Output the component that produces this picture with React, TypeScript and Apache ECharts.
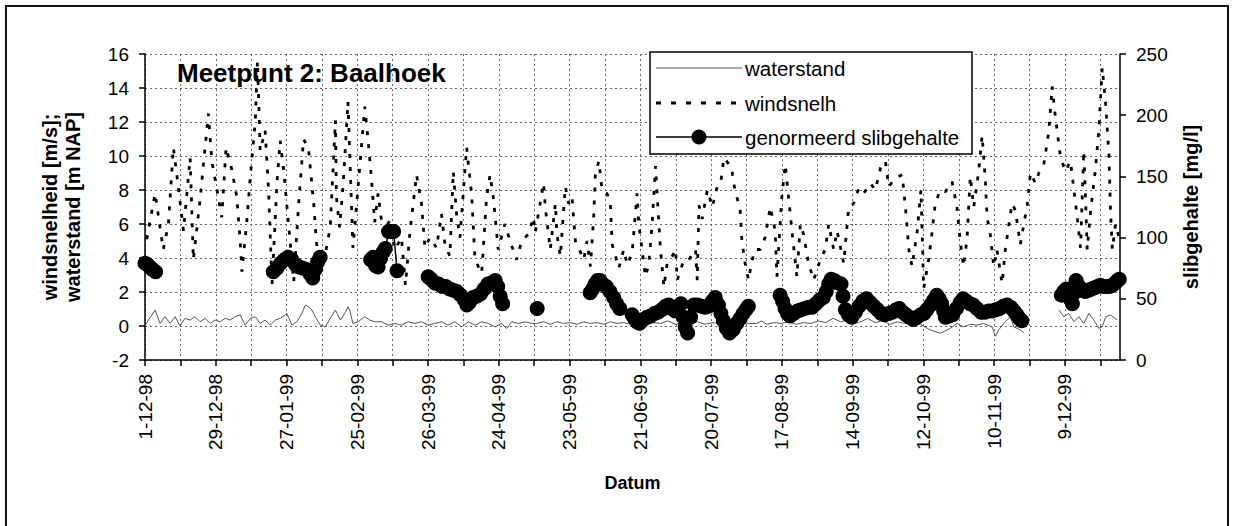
import React, { useEffect, useRef } from 'react';
import * as echarts from 'echarts';

const FONT = '"Liberation Sans", Arial, sans-serif';

// x axis: days since 1-12-98
const dateLabels = [
  '1-12-98', '29-12-98', '27-01-99', '25-02-99', '26-03-99', '24-04-99', '23-05-99',
  '21-06-99', '20-07-99', '17-08-99', '14-09-99', '12-10-99', '10-11-99', '9-12-99',
];
const TICK_DAYS = 373 / 26;
const TICK_COUNT = 28;
const X_MAX = 395.3;

// windsnelheid [m/s] : [day, value]
const windsnelh: [number, number][] = [
  [0.7, 5.1], [4.1, 7.8], [7.4, 4.5], [9.5, 6.0], [11.5, 10.5], [13.5, 8.2], [15.6, 5.6], [18.3, 9.9],
  [19.6, 3.9], [22.3, 7.4], [25.7, 12.5], [27.1, 9.7], [29.1, 8.1], [31.1, 6.4], [32.9, 10.5], [35.2, 9.2],
  [37.2, 7.6], [38.6, 5.0], [39.3, 3.2], [41.3, 6.2], [42.7, 8.8], [44.7, 12.0], [45.6, 15.6], [46.7, 10.3],
  [48.7, 11.5], [50.1, 8.0], [51.5, 2.4], [53.5, 8.4], [54.8, 10.9], [56.2, 9.2], [58.2, 6.0], [60.3, 2.6],
  [62.3, 7.2], [64.3, 11.0], [66.3, 10.4], [68.4, 7.2], [69.5, 4.9], [71.8, 3.2], [75.1, 5.8], [77.2, 12.1],
  [77.6, 7.6], [78.9, 5.8], [80.3, 8.2], [82.3, 13.2], [84.3, 4.6], [86.4, 8.2], [89.1, 12.9], [90.4, 11.0],
  [91.8, 8.7], [93.1, 6.1], [94.5, 7.8], [96.5, 5.5], [99.2, 6.2], [101.3, 4.5], [104, 5.2], [105.6, 2.4],
  [107.4, 5.5], [110.1, 8.9], [112.1, 7.2], [113.5, 4.6], [115.5, 5.2], [118.2, 4.6], [120.2, 6.6], [121.6, 4.8],
  [123.6, 4.1], [125, 9.1], [126.3, 6.6], [127.7, 5.2], [130.4, 10.5], [132.4, 7.8], [133.8, 3.9], [136.5, 3.1],
  [138.5, 7.6], [139.9, 8.9], [141.2, 7.6], [143.2, 4.5], [145.9, 6.0], [148, 5.0], [150.7, 3.9], [152.7, 5.0],
  [155.4, 5.4], [157.5, 6.4], [158.2, 5.5], [161.6, 8.4], [162.3, 7.0], [164.3, 4.5], [166.4, 7.2], [167, 5.4],
  [168.4, 4.1], [170.4, 8.2], [171.8, 7.2], [173.1, 7.6], [174.5, 5.0], [177.9, 3.9], [179.2, 5.0], [180.6, 3.5],
  [181.9, 6.4], [182.6, 8.9], [184, 9.7], [185.3, 8.0], [187.3, 7.8], [188.7, 7.2], [189.4, 4.8], [192.1, 3.4],
  [194.1, 4.5], [195.5, 3.6], [197.5, 4.3], [199.5, 7.8], [200.2, 6.0], [202.9, 2.9], [204.3, 3.7], [205.6, 6.0],
  [207, 9.4], [207.7, 7.6], [209, 4.5], [210.4, 2.3], [211.7, 3.7], [213.1, 3.9], [215.1, 4.5], [215.8, 2.7],
  [218.5, 3.9], [220.5, 3.9], [223.2, 4.5], [223.9, 2.7], [224.6, 7.1], [225.9, 6.3], [228, 8.0], [230, 7.0],
  [232, 8.2], [233.4, 8.4], [234.7, 9.9], [237.9, 9.3], [238.6, 8.4], [241.3, 6.8], [242, 5.0], [243.3, 3.7],
  [244.7, 2.7], [246, 3.8], [247.4, 4.5], [249.4, 4.5], [251.4, 5.2], [253.5, 7.0], [255.5, 5.6], [256.2, 2.9],
  [258.2, 7.6], [259.6, 9.5], [260.9, 7.6], [262.3, 5.6], [264.3, 2.9], [265.7, 6.0], [267, 5.4], [269, 3.7],
  [271.1, 2.7], [273.8, 3.9], [275.8, 4.5], [277.2, 6.0], [279.2, 4.5], [280.6, 5.6], [283.3, 3.7], [285.3, 7.0],
  [287.3, 7.2], [289.4, 8.1], [291.4, 7.8], [294.1, 8.4], [296.1, 8.0], [298.2, 9.3], [300.2, 9.7], [301.5, 8.2],
  [304.3, 8.7], [307, 8.9], [308.3, 7.0], [309.7, 4.5], [311, 3.5], [313.1, 5.6], [314.6, 8.0], [315.7, 2.2],
  [317.7, 3.9], [319, 5.4], [320.4, 7.2], [322.4, 8.0], [324.5, 7.9], [327.2, 8.5], [329.2, 7.0], [330.5, 5.0],
  [331.9, 3.5], [333.3, 5.2], [334.6, 8.8], [336, 7.0], [338, 9.1], [339.4, 11.2], [340.7, 8.6], [341.4, 6.4],
  [342.7, 5.4], [344.1, 3.5], [345.4, 4.5], [347.5, 2.5], [348.8, 4.5], [351.5, 7.2], [352.9, 6.8], [354.9, 4.8],
  [356.3, 6.0], [357.6, 7.0], [359, 9.0], [361, 8.4], [362.4, 9.0], [364.4, 9.5], [366.4, 11.4], [367.8, 14.1],
  [369.1, 12.3], [371.2, 9.9], [373.2, 9.1], [375.2, 9.7], [377.3, 7.2], [379.3, 4.6], [380.6, 10.3], [381.3, 7.6],
  [382, 4.5], [383.4, 6.8], [385.4, 9.3], [386.7, 11.5], [388.1, 15.2], [389.4, 13.2], [390.8, 10.1], [391.5, 6.6],
  [392.2, 4.5], [393.5, 6.0], [394.9, 5.2],
];

// waterstand [m NAP] : [day, value] (two measured stretches)
const waterstandA: [number, number][] = [
  [0, 0.0], [1.4, 0.35], [4.1, 0.94], [6.1, 0.15], [8.1, 0.55], [10.2, 0.15], [12.2, 0.55], [14.2, 0.0],
  [16.2, 0.45], [18.3, 0.35], [20.3, 0.55], [22.3, 0.25], [24.4, 0.45], [26.4, 0.15], [28.4, 0.35], [30.5, 0.25],
  [32.5, 0.45], [34.5, 0.35], [36.6, 0.55], [38.6, 0.65], [40.6, 0.05], [42.7, 0.45], [44.7, 0.55], [46.7, 0.15],
  [48.7, 0.35], [50.8, 0.05], [52.8, 0.35], [54.8, 0.45], [56.9, 0.65], [57.5, 0.74], [59.6, 0.05], [61.6, 0.25],
  [63.6, 0.74], [65, 1.23], [66.3, 1.13], [67.7, 0.94], [69, 0.55], [71.1, 0.05], [73.1, -0.05], [75.1, 0.45],
  [77.2, 0.94], [79.2, 0.35], [81, 0.74], [82.3, 1.13], [83, 0.94], [84.3, 0.15], [86.4, 0.25], [89.1, 0.55],
  [91.1, 0.35], [93.1, 0.25], [95.9, 0.25], [98.6, 0.05], [101.3, 0.15], [104, 0.05], [106.7, 0.25], [109.4, 0.15],
  [112.1, 0.25], [114.8, 0.05], [117.5, 0.15], [120.2, 0.25], [122.9, 0.05], [125.6, 0.25], [128.4, -0.05], [131.1, 0.25],
  [133.8, 0.05], [136.5, 0.25], [139.2, 0.15], [141.9, -0.05], [144.6, 0.15], [146.6, -0.15], [148.7, 0.25], [151.4, 0.15],
  [154.1, 0.25], [156.8, 0.15], [158.9, 0.15], [161.6, 0.25], [164.3, 0.1], [167, 0.25], [169.7, 0.15], [172.4, 0.2],
  [175.2, 0.1], [177.9, 0.25], [180.6, 0.15], [183.3, 0.2], [186, 0.1], [188.7, 0.25], [191.4, 0.15], [194.1, 0.2],
  [196.8, 0.1], [200, 0.25], [203, 0.1], [206, 0.2], [209, 0.15], [212, 0.3], [215, 0.1], [218, 0.2],
  [221, 0.15], [224, 0.25], [227, 0.1], [230, 0.2], [233, 0.15], [236, 0.25], [239, 0.1], [242, 0.2],
  [245, 0.15], [248, 0.15], [250, 0.3], [252, 0.1], [255, 0.2], [258, 0.15], [261, 0.25], [264, 0.1],
  [267, 0.2], [270, 0.15], [273, 0.3], [276, 0.2], [279, 0.45], [282, 0.25], [285, 0.35], [288, 0.15],
  [291, 0.3], [293, 0.45], [296, 0.2], [299, 0.3], [302, 0.1], [305, 0.25], [308, 0.15], [311, 0.2],
  [314.3, 0.1], [318.4, -0.23], [322.4, -0.43], [326.5, -0.14], [329.2, 0.15], [331.9, -0.05], [334.6, 0.1], [337.3, 0.05],
  [340, 0.15], [343.4, -0.05], [344.8, -0.6], [346.1, -0.23], [348.2, 0.15], [350.9, 0.55], [352.2, -0.05], [354.9, -0.23],
  [356.3, -0.4],
];
const waterstandB: [number, number][] = [
  [370.5, 0.94], [372.5, 0.55], [374.5, 0.74], [376.6, 0.25], [378.6, 0.55], [380.6, 0.15], [382.7, 0.74], [384.7, 0.35],
  [386.7, -0.14], [388.1, -0.05], [389.5, 0.55], [391.5, 0.65], [394.2, 0.35],
];

// genormeerd slibgehalte [mg/l] : [day, value], measuring campaigns
const slib1: [number, number][] = [[0, 79], [1, 78], [2, 76], [3, 74], [4.3, 72]];
const slib2: [number, number][] = [
  [52, 72], [53.5, 75], [55, 79], [56.5, 82], [58, 84], [59.5, 82], [61, 78], [62.5, 76],
  [64, 75], [65.5, 74], [67, 70], [68, 67], [69, 74], [70, 80], [71, 84],
];
const slib3: [number, number][] = [
  [91.5, 82], [92.5, 84], [93.5, 77], [94.5, 76], [95.5, 83], [96.5, 88], [97.4, 91], [98.8, 105],
  [99.8, 105], [100.8, 105], [102.2, 73],
];
const slib4: [number, number][] = [
  [114.8, 68], [116, 66], [117.5, 63], [119, 62], [120.5, 60], [122, 60], [123.5, 58], [125, 57],
  [126.5, 56], [128, 53], [129.5, 49], [130.5, 45], [131.5, 47], [133, 51], [134.5, 52], [136, 54],
  [137.5, 58], [139, 62], [140.5, 63], [142, 65], [143, 60], [144, 52], [145, 46],
];
const slib5: [number, number][] = [[159, 42]];
const slib6: [number, number][] = [
  [180.5, 55], [181.5, 58], [182.5, 62], [183.5, 65], [184.5, 65], [185.5, 62], [187, 60], [188.5, 56],
  [190, 51], [191.2, 46], [192.5, 42],
];
const slib7: [number, number][] = [
  [197.5, 37], [198.5, 34], [199.5, 31], [200.5, 30], [202, 33], [203.5, 35], [205, 36], [206.5, 38],
  [208, 39], [209.5, 41], [211, 44], [212.3, 45], [213.5, 42], [215, 40], [216.3, 44], [217.3, 46],
  [218.3, 35], [219, 27], [220, 22], [221.2, 35], [222.5, 45], [224, 45], [225.5, 44], [227, 43],
  [228.5, 44], [230, 48], [231.2, 51], [232.5, 45], [233.5, 38], [234.5, 32], [235.7, 26], [237, 22],
  [238.5, 25], [240, 30], [241.3, 34], [242.5, 38], [243.6, 41], [244.6, 44],
];
const slib8: [number, number][] = [
  [257.5, 53], [258.5, 48], [259.5, 42], [260.5, 38], [261.5, 36], [263, 38], [264.5, 40], [266, 41],
  [267.5, 42], [269, 43], [270.5, 43], [272, 46], [273.5, 49], [275, 51], [276.2, 56], [277.2, 62],
  [278.2, 66], [279.5, 65], [281, 63], [282.2, 62], [283, 52], [284, 41], [285.2, 37], [286.5, 35],
  [288, 39], [289.5, 44], [291, 48], [292.5, 50], [294, 47], [295.5, 44], [297, 41], [298.5, 38],
  [300, 37], [301.5, 38], [303, 39], [304.5, 41], [305.8, 42], [307.2, 39], [308.5, 37], [310, 35],
  [311.5, 33], [313, 35], [314.5, 37], [315.8, 38], [317, 41], [318.5, 45], [319.8, 49], [321, 53],
  [322, 50], [323, 46], [323.8, 40], [324.5, 35], [326, 36], [327.5, 37], [329, 42], [330.5, 47],
  [331.7, 50], [333, 48], [334.5, 46], [335.8, 45], [337.3, 42], [339, 39], [340.5, 39], [342, 40],
  [343.5, 40], [345, 41], [346.5, 42], [348, 44], [349.5, 45], [351, 43], [352.3, 40], [353.5, 37],
  [354.5, 34], [355.5, 32],
];
const slib9: [number, number][] = [
  [371.5, 53], [372.5, 56], [373.5, 58], [374.3, 54], [375, 50], [376, 46], [376.8, 55], [377.5, 65],
  [378.7, 60], [380, 57], [381.2, 56], [382.5, 57], [383.7, 58], [385, 59], [386.2, 60], [387.4, 61],
  [388.6, 60], [389.8, 60], [391, 60], [392.2, 61], [393.4, 63], [394.3, 65], [395, 66],
];

function joinWithBreaks(parts: [number, number][][]): any[] {
  const out: any[] = [];
  parts.forEach((p, i) => {
    if (i > 0) out.push([(out[out.length - 1][0] + p[0][0]) / 2, '-']);
    p.forEach((d) => out.push(d));
  });
  return out;
}

export default function App() {
  const ref = useRef<HTMLDivElement>(null);

  useEffect(() => {
    document.body.style.margin = '0';
    if (!ref.current) return;
    const chart = echarts.init(ref.current, undefined, { renderer: 'svg' });

    const tickValues: number[] = [];
    for (let k = 0; k < TICK_COUNT; k++) tickValues.push(k * TICK_DAYS);
    const labelValues = dateLabels.map((_, i) => i * 2 * TICK_DAYS);

    const gridLine = { show: true, lineStyle: { color: '#666', type: [2, 3] as any, width: 1 } };
    const axisTxt = { color: '#000', fontFamily: FONT, fontSize: 19 };

    const legendX = 650;
    const legendY = 52;
    const rows = [68, 103, 137];

    chart.setOption({
      animation: false,
      backgroundColor: '#fff',
      textStyle: { fontFamily: FONT },
      grid: { left: 145, top: 54, width: 975, height: 306, containLabel: false },
      xAxis: {
        type: 'value',
        min: 0,
        max: X_MAX,
        axisLine: { show: true, onZero: false, lineStyle: { color: '#000', width: 1.5 } },
        axisTick: { show: true, customValues: tickValues, length: 6, lineStyle: { color: '#000', width: 1.5 } },
        axisLabel: {
          customValues: labelValues,
          rotate: 90,
          margin: 14,
          ...axisTxt,
          fontSize: 19,
          formatter: (v: number) => dateLabels[Math.round(v / (2 * TICK_DAYS))] ?? '',
        },
        splitLine: gridLine,
        name: 'Datum',
        nameLocation: 'middle',
        nameGap: 114,
        nameTextStyle: { color: '#000', fontFamily: FONT, fontSize: 18, fontWeight: 'bold' },
      },
      yAxis: [
        {
          type: 'value',
          min: -2,
          max: 16,
          interval: 2,
          position: 'left',
          axisLine: { show: true, lineStyle: { color: '#000', width: 1.5 } },
          axisTick: { show: true, length: 6, lineStyle: { color: '#000', width: 1.5 } },
          axisLabel: { ...axisTxt, margin: 16 },
          splitLine: gridLine,
          name: 'windsnelheid [m/s];\nwaterstand [m NAP]',
          nameLocation: 'middle',
          nameRotate: 90,
          nameGap: 61,
          nameTextStyle: { color: '#000', fontFamily: FONT, fontSize: 20, fontWeight: 'bold', lineHeight: 23 },
        },
        {
          type: 'value',
          min: 0,
          max: 250,
          interval: 50,
          position: 'right',
          axisLine: { show: true, lineStyle: { color: '#000', width: 1.5 } },
          axisTick: { show: true, length: 6, lineStyle: { color: '#000', width: 1.5 } },
          axisLabel: { ...axisTxt, margin: 16 },
          splitLine: { show: false },
          name: 'slibgehalte [mg/l]',
          nameLocation: 'middle',
          nameRotate: 90,
          nameGap: 61,
          nameTextStyle: { color: '#000', fontFamily: FONT, fontSize: 20, fontWeight: 'bold' },
        },
      ],
      series: [
        {
          name: 'waterstand',
          type: 'line',
          yAxisIndex: 0,
          data: joinWithBreaks([waterstandA, waterstandB]),
          showSymbol: false,
          symbol: 'none',
          lineStyle: { color: '#555', width: 1 },
          z: 2,
        },
        {
          name: 'windsnelh',
          type: 'line',
          yAxisIndex: 0,
          data: windsnelh,
          showSymbol: false,
          symbol: 'none',
          lineStyle: { color: '#000', width: 2.8, type: [4, 9] as any },
          z: 3,
        },
        {
          name: 'genormeerd slibgehalte',
          type: 'line',
          yAxisIndex: 1,
          data: joinWithBreaks([slib1, slib2, slib3, slib4, slib5, slib6, slib7, slib8, slib9]),
          symbol: 'circle',
          symbolSize: 15,
          showAllSymbol: true,
          connectNulls: false,
          itemStyle: { color: '#000' },
          lineStyle: { color: '#000', width: 1.5 },
          z: 4,
        },
      ],
      graphic: [
        {
          type: 'rect',
          z: 0,
          silent: true,
          shape: { x: 6, y: 6, width: 1222, height: 530 },
          style: { fill: 'none', stroke: '#111', lineWidth: 2 },
        },
        {
          type: 'text',
          z: 50,
          x: 177,
          y: 73,
          style: {
            text: 'Meetpunt 2: Baalhoek',
            fontFamily: FONT,
            fontSize: 26,
            fontWeight: 'bold',
            fill: '#000',
            verticalAlign: 'middle',
          },
        },
        {
          type: 'group',
          z: 100,
          children: [
            {
              type: 'rect',
              z: 100,
              shape: { x: legendX, y: legendY, width: 322, height: 102 },
              style: { fill: '#fff', stroke: '#000', lineWidth: 1.5 },
            },
            {
              type: 'line',
              z: 101,
              shape: { x1: 656, y1: rows[0], x2: 742, y2: rows[0] },
              style: { stroke: '#555', lineWidth: 1 },
            },
            {
              type: 'line',
              z: 101,
              shape: { x1: 656, y1: rows[1], x2: 742, y2: rows[1] },
              style: { stroke: '#000', lineWidth: 2.8, lineDash: [5, 10] },
            },
            {
              type: 'line',
              z: 101,
              shape: { x1: 656, y1: rows[2], x2: 742, y2: rows[2] },
              style: { stroke: '#000', lineWidth: 1.5 },
            },
            {
              type: 'circle',
              z: 102,
              shape: { cx: 699, cy: rows[2], r: 7.5 },
              style: { fill: '#000' },
            },
            ...['waterstand', 'windsnelh', 'genormeerd slibgehalte'].map((t, i) => ({
              type: 'text',
              z: 101,
              x: 745,
              y: rows[i],
              style: { text: t, fontFamily: FONT, fontSize: 20.5, fill: '#000', verticalAlign: 'middle' },
            })),
          ],
        },
      ],
    });

    return () => chart.dispose();
  }, []);

  return <div ref={ref} style={{ width: 1234, height: 526 }} />;
}
